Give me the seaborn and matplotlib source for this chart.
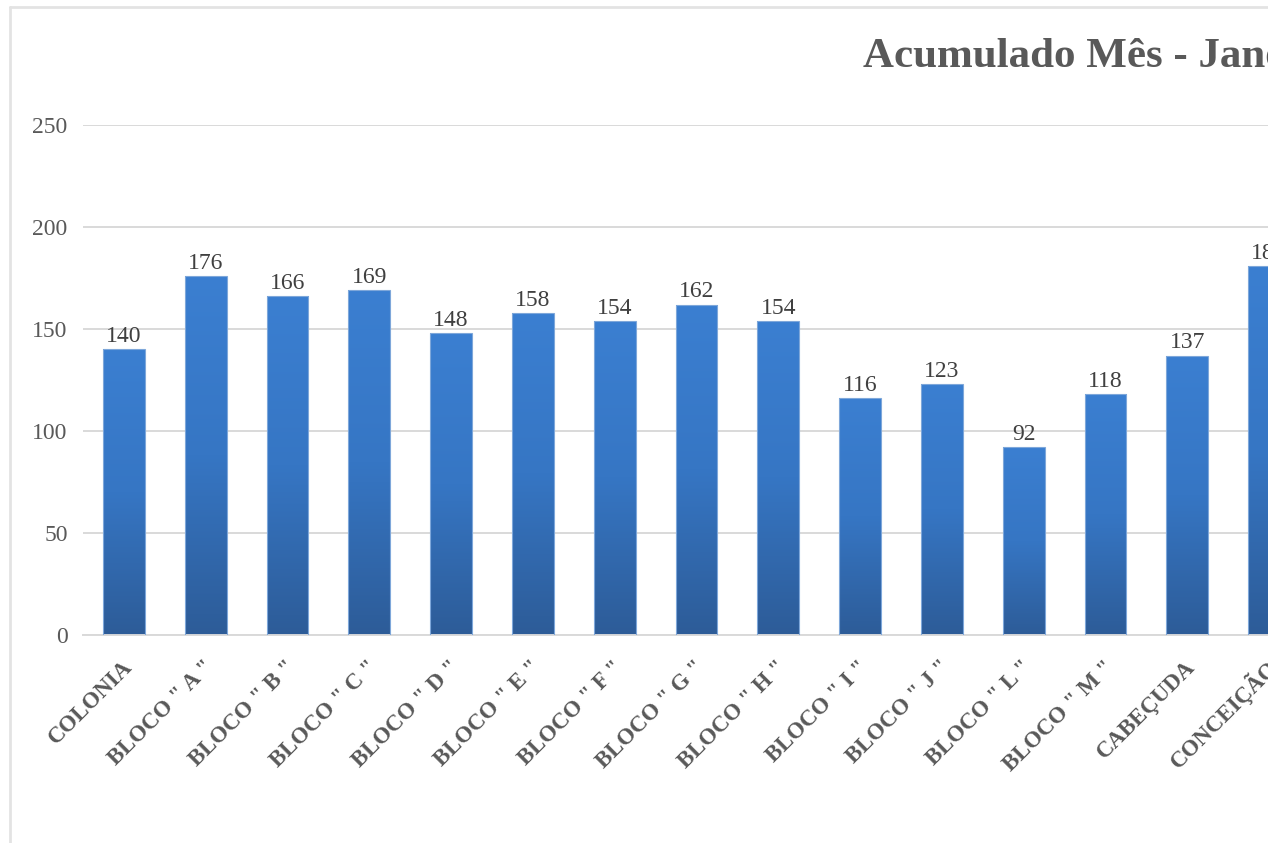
import numpy as np
import pandas as pd
import matplotlib
matplotlib.use("Agg")
import matplotlib.pyplot as plt
import matplotlib.transforms as mtransforms
from matplotlib.colors import LinearSegmentedColormap
from matplotlib.lines import Line2D
from matplotlib.patches import Rectangle
import seaborn as sns

# Monthly accumulated values per location
locais = ['COLONIA', 'BLOCO " A "', 'BLOCO " B "', 'BLOCO " C "', 'BLOCO " D "',
          'BLOCO " E "', 'BLOCO " F "', 'BLOCO " G "', 'BLOCO " H "', 'BLOCO " I "',
          'BLOCO " J "', 'BLOCO " L "', 'BLOCO " M "', 'CABEÇUDA', 'CONCEIÇÃO']
acumulado = [140, 176, 166, 169, 148, 158, 154, 162, 154, 116, 123, 92, 118, 137, 181]
yticks = [0, 50, 100, 150, 200, 250]
titulo = "Acumulado Mês - Janeiro"

df = pd.DataFrame({"local": locais, "valor": acumulado})

sns.set_theme(style="white")
plt.rcParams["font.family"] = ["Liberation Serif", "DejaVu Serif"]

W, H = 1272, 843
fig = plt.figure(figsize=(W / 100, H / 100), dpi=100)
fig.patch.set_facecolor("white")

# plot area in pixels: left 83, baseline at y=635, 250-line at y=125, 81.8 px per category
slot = 81.8
left_px, bottom_px, top_px = 83, 635, 125
ax = fig.add_axes([left_px / W, (H - bottom_px) / H,
                   slot * len(locais) / W, (bottom_px - top_px) / H])

sns.barplot(data=df, x="local", y="valor", color="#3673C0", width=0.51,
            edgecolor="#7EA7DA", linewidth=0.8, ax=ax, zorder=2)

ax.set_xlim(-0.5, len(locais) - 0.5)
ax.set_ylim(0, 250)
ax.set_yticks(yticks)
ax.yaxis.grid(True, color="#D9D9D9", linewidth=1.4, zorder=0)
ax.set_axisbelow(True)
for s in ["top", "right", "left"]:
    ax.spines[s].set_visible(False)
ax.spines["bottom"].set_color("#D9D9D9")
ax.spines["bottom"].set_linewidth(1.4)
ax.tick_params(axis="both", length=0)
ax.tick_params(axis="y", pad=11, labelsize=17, labelcolor="#595959")
ax.set_xlabel("")
ax.set_ylabel("")

# vertical gradient fill for each bar
cmap = LinearSegmentedColormap.from_list("grad", ["#2D5C98", "#3676C4", "#3B7FD1"])
grad = np.linspace(0, 1, 256).reshape(-1, 1)
for p in ax.patches:
    x0, y0 = p.get_x(), p.get_y()
    w, h = p.get_width(), p.get_height()
    im = ax.imshow(grad, cmap=cmap, origin="lower", aspect="auto",
                   extent=[x0, x0 + w, y0, y0 + h], zorder=2.5)
    im.set_clip_path(p)
    p.set_facecolor("none")
    p.set_zorder(3)
ax.set_xlim(-0.5, len(locais) - 0.5)
ax.set_ylim(0, 250)

# value labels
for i, v in enumerate(acumulado):
    ax.annotate(f"{v}", (i, v), xytext=(0, 1.5), textcoords="offset points",
                ha="center", va="bottom", fontsize=17, color="#404040", zorder=4)

# rotated category labels
ax.set_xticks(range(len(locais)))
ax.set_xticklabels(locais, rotation=45, ha="right", va="center",
                   rotation_mode="anchor", fontsize=16.5, fontweight="bold",
                   color="#595959")
offset = mtransforms.ScaledTranslation(5 / 100, -24 / 100, fig.dpi_scale_trans)
for lbl in ax.get_xticklabels():
    lbl.set_transform(lbl.get_transform() + offset)

# title
fig.text(863 / W, 1 - 57 / H, titulo, ha="left", va="center", fontsize=31,
         fontweight="bold", color="#595959")

# chart frame (left and top edges)
frame_kw = dict(color="#E3E3E3", linewidth=2, transform=fig.transFigure, zorder=10)
fig.add_artist(Line2D([10 / W, 10 / W], [0, 1 - 7 / H], **frame_kw))
fig.add_artist(Line2D([10 / W, 1268 / W], [1 - 7 / H, 1 - 7 / H], **frame_kw))

# right edge strip
fig.add_artist(Rectangle((1268 / W, 0), 4 / W, 1, transform=fig.transFigure,
                         facecolor="white", edgecolor="none", zorder=20))

fig.savefig("out.png", dpi=100)
